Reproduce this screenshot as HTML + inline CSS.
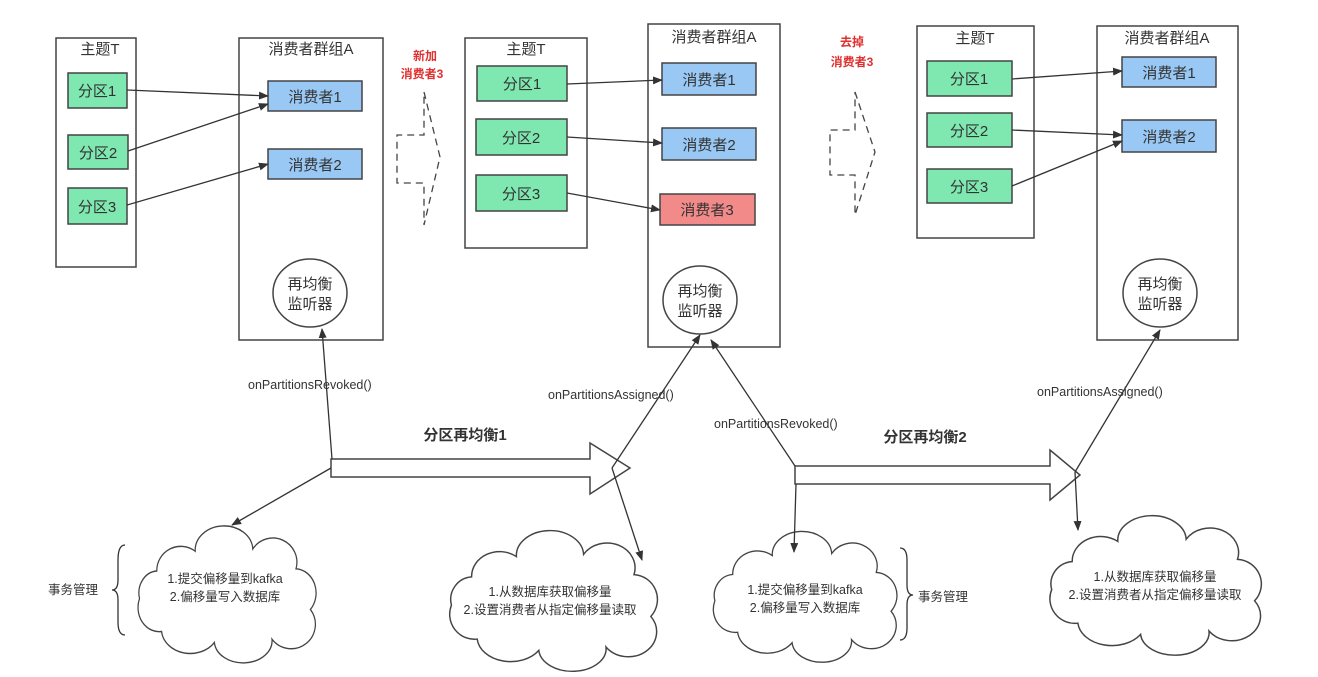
<!DOCTYPE html>
<html><head><meta charset="utf-8"><style>
html,body{margin:0;padding:0;background:#fff;}
svg{display:block;}
text{font-family:"Liberation Sans","Noto Sans CJK SC",sans-serif;fill:#333;}
.box{fill:#fff;stroke:#444;stroke-width:1.5;}
.p{fill:#7ee8b0;stroke:#444;stroke-width:1.5;}
.c{fill:#99c8f5;stroke:#444;stroke-width:1.5;}
.r{fill:#f28a8a;stroke:#444;stroke-width:1.5;}
.l{stroke:#333;stroke-width:1.3;fill:none;}
.t{font-size:15px;text-anchor:middle;}
.s{font-size:12.5px;}
.d{fill:none;stroke:#444;stroke-width:1.3;stroke-dasharray:7,5;}
.cl{fill:#fff;stroke:#444;stroke-width:1.3;}
</style></head><body>
<svg width="1318" height="677" viewBox="0 0 1318 677" xmlns="http://www.w3.org/2000/svg">
<defs>
<marker id="a" markerWidth="10" markerHeight="8" refX="9" refY="4" orient="auto" markerUnits="userSpaceOnUse"><path d="M0,0 L10,4 L0,8 Z" fill="#333"/></marker>
<path id="cloud" d="M30,30 A25,22 0 0 1 70,12 A30,22 0 0 1 130,10 A25,22 0 0 1 175,28 A22,22 0 0 1 190,65 A25,22 0 0 1 150,92 A30,20 0 0 1 90,95 A30,22 0 0 1 35,85 A22,22 0 0 1 12,55 A20,20 0 0 1 30,30 Z"/>
</defs>

<!-- clouds first -->
<use href="#cloud" class="cl" transform="translate(128,538) scale(0.96,1.1)"/>
<use href="#cloud" class="cl" transform="translate(438,543) scale(1.12,1.13)"/>
<use href="#cloud" class="cl" transform="translate(703,543) scale(0.99,1.05)"/>
<use href="#cloud" class="cl" transform="translate(1038,528) scale(1.14,1.12)"/>

<!-- Panel 1 -->
<rect class="box" x="56" y="38" width="80" height="229"/>
<text class="t" x="100" y="54">主题T</text>
<rect class="p" x="68" y="73" width="59" height="35"/><text class="t" x="97" y="96">分区1</text>
<rect class="p" x="68" y="135" width="60" height="34"/><text class="t" x="98" y="158">分区2</text>
<rect class="p" x="68" y="188" width="59" height="36"/><text class="t" x="97" y="212">分区3</text>
<rect class="box" x="239" y="38" width="144" height="302"/>
<text class="t" x="311" y="54">消费者群组A</text>
<rect class="c" x="268" y="81" width="94" height="30"/><text class="t" x="315" y="102">消费者1</text>
<rect class="c" x="268" y="149" width="94" height="30"/><text class="t" x="315" y="170">消费者2</text>
<ellipse class="box" cx="310" cy="293" rx="37" ry="34"/>
<text class="t" x="310" y="289">再均衡</text><text class="t" x="310" y="309">监听器</text>
<line class="l" x1="127" y1="90" x2="268" y2="96" marker-end="url(#a)"/>
<line class="l" x1="128" y1="151" x2="268" y2="104" marker-end="url(#a)"/>
<line class="l" x1="127" y1="205" x2="268" y2="164" marker-end="url(#a)"/>

<text x="425" y="60" style="font-size:12px;font-weight:bold;fill:#e03030;text-anchor:middle">新加</text>
<text x="422" y="78" style="font-size:12px;font-weight:bold;fill:#e03030;text-anchor:middle">消费者3</text>
<path class="d" d="M424,92 L440,157 L424,225 L424,183 L397,183 L397,135 L424,135 Z"/>

<!-- Panel 2 -->
<rect class="box" x="465" y="38" width="122" height="210"/>
<text class="t" x="526" y="54">主题T</text>
<rect class="p" x="477" y="66" width="90" height="35"/><text class="t" x="522" y="89">分区1</text>
<rect class="p" x="476" y="119" width="91" height="36"/><text class="t" x="521" y="143">分区2</text>
<rect class="p" x="476" y="175" width="91" height="36"/><text class="t" x="521" y="199">分区3</text>
<rect class="box" x="648" y="24" width="132" height="323"/>
<text class="t" x="714" y="42">消费者群组A</text>
<rect class="c" x="662" y="63" width="94" height="32"/><text class="t" x="709" y="85">消费者1</text>
<rect class="c" x="662" y="128" width="94" height="32"/><text class="t" x="709" y="150">消费者2</text>
<rect class="r" x="660" y="194" width="95" height="31"/><text class="t" x="707" y="215">消费者3</text>
<ellipse class="box" cx="700" cy="300" rx="37" ry="34"/>
<text class="t" x="700" y="296">再均衡</text><text class="t" x="700" y="316">监听器</text>
<line class="l" x1="567" y1="84" x2="662" y2="80" marker-end="url(#a)"/>
<line class="l" x1="567" y1="137" x2="662" y2="143" marker-end="url(#a)"/>
<line class="l" x1="567" y1="193" x2="660" y2="210" marker-end="url(#a)"/>

<text x="852" y="46" style="font-size:12px;font-weight:bold;fill:#e03030;text-anchor:middle">去掉</text>
<text x="852" y="66" style="font-size:12px;font-weight:bold;fill:#e03030;text-anchor:middle">消费者3</text>
<path class="d" d="M855,92 L875,152 L855,215 L855,175 L830,175 L830,130 L855,130 Z"/>

<!-- Panel 3 -->
<rect class="box" x="917" y="26" width="117" height="212"/>
<text class="t" x="975" y="43">主题T</text>
<rect class="p" x="927" y="61" width="85" height="35"/><text class="t" x="969" y="84">分区1</text>
<rect class="p" x="927" y="113" width="85" height="34"/><text class="t" x="969" y="136">分区2</text>
<rect class="p" x="927" y="169" width="85" height="34"/><text class="t" x="969" y="192">分区3</text>
<rect class="box" x="1097" y="26" width="141" height="314"/>
<text class="t" x="1167" y="43">消费者群组A</text>
<rect class="c" x="1122" y="57" width="94" height="30"/><text class="t" x="1169" y="78">消费者1</text>
<rect class="c" x="1122" y="120" width="94" height="32"/><text class="t" x="1169" y="142">消费者2</text>
<ellipse class="box" cx="1160" cy="293" rx="37" ry="34"/>
<text class="t" x="1160" y="289">再均衡</text><text class="t" x="1160" y="309">监听器</text>
<line class="l" x1="1012" y1="79" x2="1122" y2="71" marker-end="url(#a)"/>
<line class="l" x1="1012" y1="130" x2="1122" y2="135" marker-end="url(#a)"/>
<line class="l" x1="1012" y1="186" x2="1122" y2="141" marker-end="url(#a)"/>

<!-- Bottom 1 -->
<text x="465" y="440" style="font-size:15px;font-weight:bold;text-anchor:middle">分区再均衡1</text>
<path class="box" d="M331,459 L590,459 L590,443 L630,468 L590,494 L590,477 L331,477 Z"/>
<line class="l" x1="332" y1="459" x2="322" y2="329" marker-end="url(#a)"/>
<text class="s" x="248" y="389">onPartitionsRevoked()</text>
<line class="l" x1="331" y1="468" x2="232" y2="525" marker-end="url(#a)"/>
<line class="l" x1="612" y1="468" x2="700" y2="335" marker-end="url(#a)"/>
<line class="l" x1="612" y1="468" x2="642" y2="560" marker-end="url(#a)"/>
<text class="s" x="548" y="399">onPartitionsAssigned()</text>
<text class="s" x="225" y="583" text-anchor="middle">1.提交偏移量到kafka</text>
<text class="s" x="225" y="601" text-anchor="middle">2.偏移量写入数据库</text>
<path class="l" d="M125,545 Q118,545 118,560 L118,580 Q118,590 112,590 Q118,590 118,600 L118,622 Q118,635 125,635"/>
<text class="s" x="48" y="594">事务管理</text>
<text class="s" x="550" y="596" text-anchor="middle">1.从数据库获取偏移量</text>
<text class="s" x="550" y="614" text-anchor="middle">2.设置消费者从指定偏移量读取</text>

<!-- Bottom 2 -->
<text x="925" y="442" style="font-size:15px;font-weight:bold;text-anchor:middle">分区再均衡2</text>
<path class="box" d="M795,466 L1050,466 L1050,450 L1080,475 L1050,500 L1050,484 L795,484 Z"/>
<line class="l" x1="795" y1="466" x2="711" y2="340" marker-end="url(#a)"/>
<text class="s" x="714" y="428">onPartitionsRevoked()</text>
<line class="l" x1="796" y1="484" x2="794" y2="552" marker-end="url(#a)"/>
<text class="s" x="805" y="594" text-anchor="middle">1.提交偏移量到kafka</text>
<text class="s" x="805" y="612" text-anchor="middle">2.偏移量写入数据库</text>
<path class="l" d="M900,548 Q907,548 907,560 L907,585 Q907,595 913,595 Q907,595 907,605 L907,628 Q907,640 900,640"/>
<text class="s" x="918" y="601">事务管理</text>
<line class="l" x1="1075" y1="472" x2="1160" y2="330" marker-end="url(#a)"/>
<line class="l" x1="1075" y1="472" x2="1078" y2="530" marker-end="url(#a)"/>
<text class="s" x="1037" y="396">onPartitionsAssigned()</text>
<text class="s" x="1155" y="581" text-anchor="middle">1.从数据库获取偏移量</text>
<text class="s" x="1155" y="599" text-anchor="middle">2.设置消费者从指定偏移量读取</text>
</svg>
</body></html>
